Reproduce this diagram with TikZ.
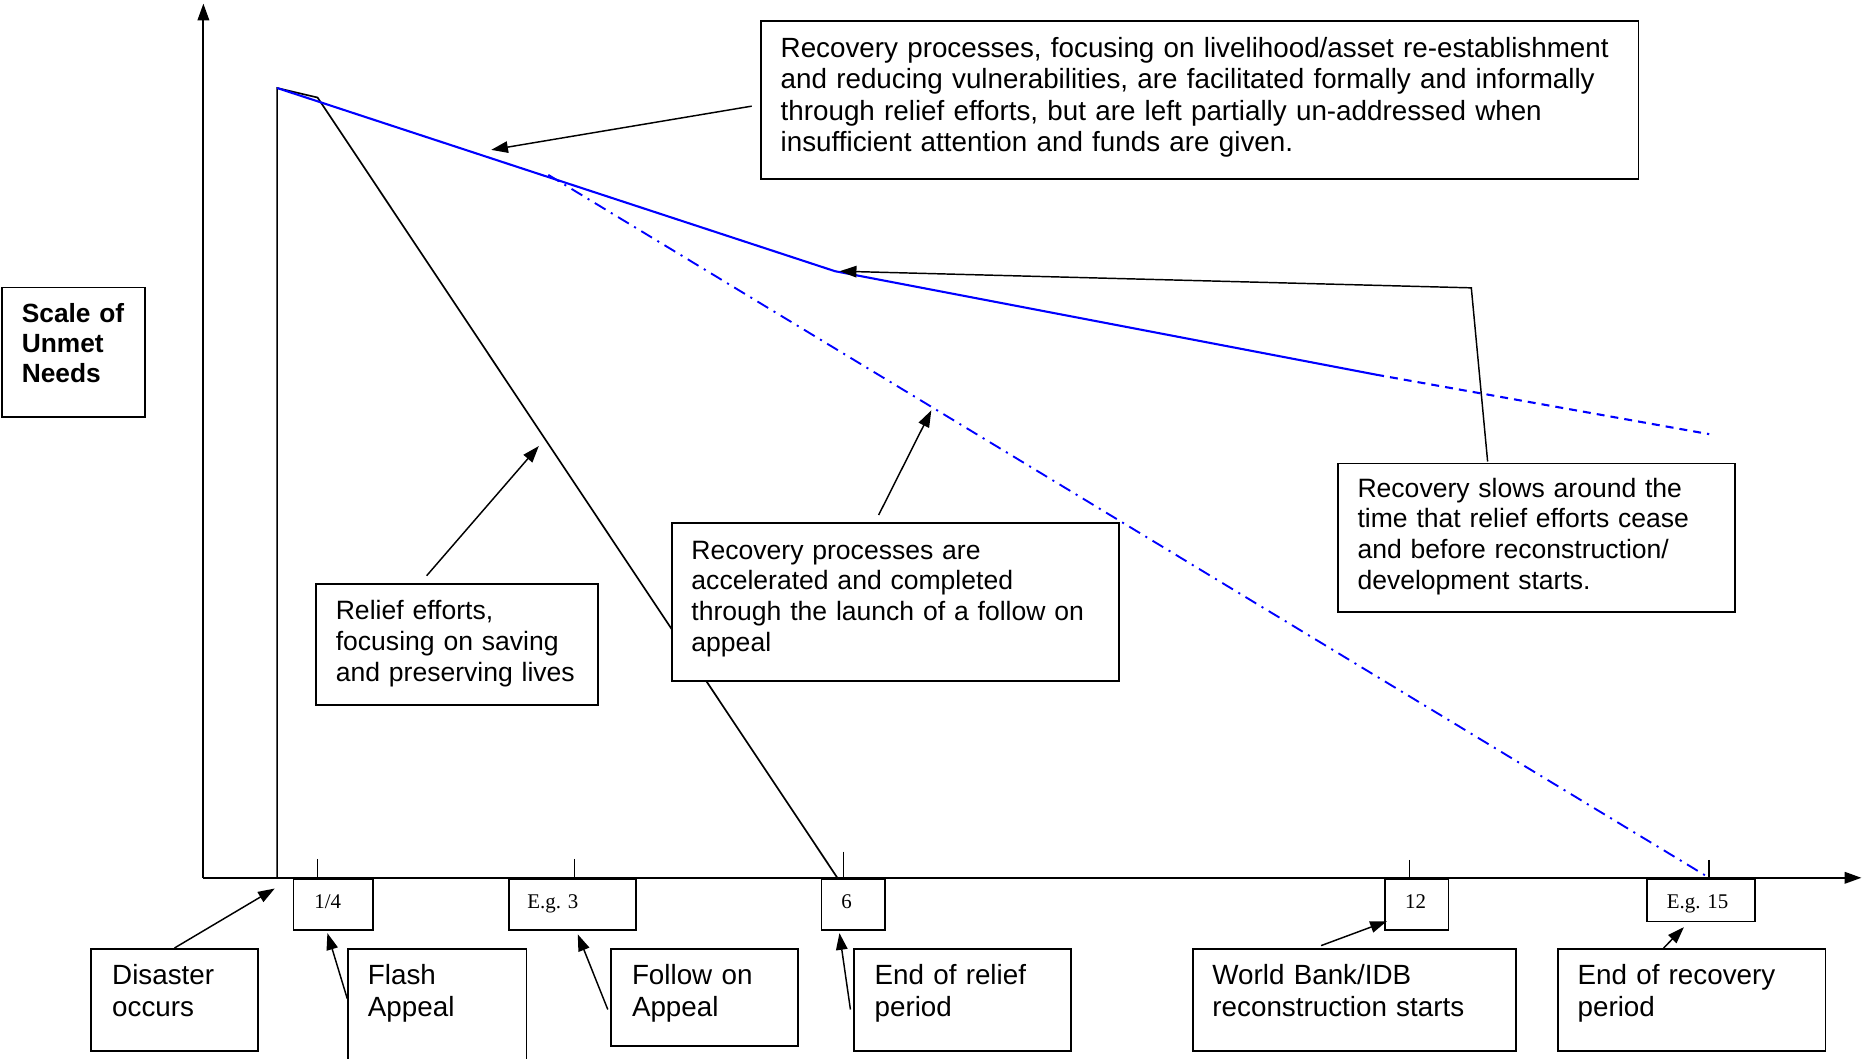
\documentclass[tikz,border=0pt]{standalone}
\usepackage{fontspec}
\setmainfont{Liberation Sans}
\newfontfamily\tickfont{Liberation Serif}
\usetikzlibrary{arrows.meta}

\begin{document}
\begin{tikzpicture}[x=0.02cm, y=-0.02cm,
    box/.style={draw, fill=white, line width=0.85pt, anchor=north west, inner sep=0pt},
    note/.style={anchor=base west, inner sep=0pt, align=left, text width=#1,
      font=\fontsize{12.7}{14.7}\selectfont},
    wide/.style={font=\fontsize{13.3}{15.1}\selectfont},
    tick/.style={anchor=base west, inner sep=0pt, font=\tickfont\fontsize{10}{12}\selectfont},
    pointer/.style={-{Triangle[length=8pt, width=5.5pt]}, line width=0.7pt},
    needs/.style={blue, line width=1pt}]
  \useasboundingbox (0,0) rectangle (1568,890);

  % axes
  \draw[line width=0.9pt, -{Triangle[length=8pt, width=5.5pt]}] (171,738) -- (171,3);
  \draw[line width=0.9pt, -{Triangle[length=8pt, width=5.5pt]}] (171,738) -- (1565,738);
  \foreach \tx/\ty in {267/722, 483/722, 709/716, 1185/723, 1437/723}
    \draw[line width=0.7pt] (\tx,\ty) -- (\tx,738);

  % curves
  \coordinate (onset) at (233,738);
  \coordinate (peak) at (233,74);
  \coordinate (rtop) at (267,82);
  \coordinate (rend) at (704,738);
  \coordinate (bend) at (702,228);
  \coordinate (slow) at (1157,315);
  \coordinate (tail) at (1437,365);
  \coordinate (fast) at (461,147);
  \coordinate (fastend) at (1437,738);
  \draw[line width=0.8pt] (onset) -- (peak) -- (rtop) -- (rend);
  \draw[needs] (peak) -- (bend) -- (slow);
  \draw[needs, dash pattern=on 3.8pt off 2.9pt] (slow) -- (tail);
  \draw[needs, line width=0.9pt, dash pattern=on 6pt off 3pt on 1pt off 3pt] (fast) -- (fastend);

  % boxes
  \node[box, minimum width=14.76cm, minimum height=2.66cm] (topbox) at (639,17) {};
  \node[note=14cm, wide] (topbox-t) at ([shift={(17,31)}]topbox.north west)
    {Recovery processes, focusing on livelihood/asset re-establishment\\
     and reducing vulnerabilities, are facilitated formally and informally\\
     through relief efforts, but are left partially un-addressed when\\
     insufficient attention and funds are given.};
  \node[box, minimum width=2.4cm, minimum height=2.18cm] (scale) at (1,241) {};
  \node[note=2cm, font=\bfseries\fontsize{12.6}{14.3}\selectfont] (scale-t)
    at ([shift={(17,30)}]scale.north west) {Scale of\\Unmet\\Needs};
  \node[box, minimum width=4.74cm, minimum height=2.04cm] (relief) at (265,490) {};
  \node[note=4.3cm] (relief-t) at ([shift={(17,31)}]relief.north west)
    {Relief efforts,\\focusing on saving\\and preserving lives};
  \node[box, minimum width=7.52cm, minimum height=2.66cm] (accel) at (564,439) {};
  \node[note=7cm] (accel-t) at ([shift={(17,31)}]accel.north west)
    {Recovery processes are\\accelerated and completed\\through the launch of a follow on\\appeal};
  \node[box, minimum width=6.68cm, minimum height=2.5cm] (slows) at (1124,389) {};
  \node[note=6.2cm] (slows-t) at ([shift={(17,29)}]slows.north west)
    {Recovery slows around the\\time that relief efforts cease\\and before reconstruction/\\development starts.};

  % time marks
  \node[box, minimum width=1.34cm, minimum height=0.86cm] (quarter) at (246,738) {};
  \node[tick] (quarter-t) at ([shift={(18,25.5)}]quarter.north west) {1/4};
  \node[box, minimum width=2.14cm, minimum height=0.86cm] (three) at (427,738) {};
  \node[tick] (three-t) at ([shift={(16,25.5)}]three.north west) {E.g. 3};
  \node[box, minimum width=1.06cm, minimum height=0.86cm] (six) at (690,738) {};
  \node[tick] (six-t) at ([shift={(17,25.5)}]six.north west) {6};
  \node[box, minimum width=1.06cm, minimum height=0.86cm] (twelve) at (1164,738) {};
  \node[tick] (twelve-t) at ([shift={(17,25.5)}]twelve.north west) {12};
  \node[box, minimum width=1.82cm, minimum height=0.72cm] (fifteen) at (1384,738) {};
  \node[tick] (fifteen-t) at ([shift={(17,25.5)}]fifteen.north west) {E.g. 15};

  % events
  \node[box, minimum width=2.8cm, minimum height=1.72cm] (disaster) at (76,797) {};
  \node[note=2.4cm, wide] (disaster-t) at ([shift={(18,31)}]disaster.north west) {Disaster\\occurs};
  \node[box, minimum width=3cm, minimum height=2.1cm] (flash) at (292,797) {};
  \node[note=2.6cm, wide] (flash-t) at ([shift={(17,31)}]flash.north west) {Flash\\Appeal};
  \node[box, minimum width=3.14cm, minimum height=1.64cm] (follow) at (513,797) {};
  \node[note=2.7cm, wide] (follow-t) at ([shift={(18,31)}]follow.north west) {Follow on\\Appeal};
  \node[box, minimum width=3.66cm, minimum height=1.72cm] (endrelief) at (717,797) {};
  \node[note=3.2cm, wide] (endrelief-t) at ([shift={(18,31)}]endrelief.north west) {End of relief\\period};
  \node[box, minimum width=5.44cm, minimum height=1.72cm] (worldbank) at (1002,797) {};
  \node[note=5cm, wide] (worldbank-t) at ([shift={(17,31)}]worldbank.north west) {World Bank/IDB\\reconstruction starts};
  \node[box, minimum width=4.5cm, minimum height=1.72cm] (endrecovery) at (1309,797) {};
  \node[note=4cm, wide] (endrecovery-t) at ([shift={(17,31)}]endrecovery.north west) {End of recovery\\period};

  % pointers
  \draw[pointer] ([shift={(-7,5)}]topbox.west) -- (413,126);
  \draw[pointer] ([shift={(-25.5,-6)}]relief.north) -- (453,375);
  \draw[pointer] ([shift={(-14,-6)}]accel.north) -- (783,345);
  \coordinate (elbow) at (1237,242);
  \draw[pointer] ([shift={(-41,-1)}]slows.north) -- (elbow) -- (706,228);
  \draw[pointer] (disaster.north) -- (231,747);
  \draw[pointer] ([shift={(0,-10.5)}]flash.west) -- ([shift={(-5,2)}]quarter.south);
  \draw[pointer] ([shift={(-2,10)}]follow.west) -- ([shift={(4.5,3)}]three.south);
  \draw[pointer] ([shift={(-2,8)}]endrelief.west) -- ([shift={(-11.5,2)}]six.south);
  \draw[pointer] ([shift={(-28,-2)}]worldbank.north) -- ([shift={(2,-8)}]twelve.south west);
  \draw[pointer] ([shift={(-23.5,0)}]endrecovery.north) -- ([shift={(-14.5,4)}]fifteen.south);
\end{tikzpicture}
\end{document}
